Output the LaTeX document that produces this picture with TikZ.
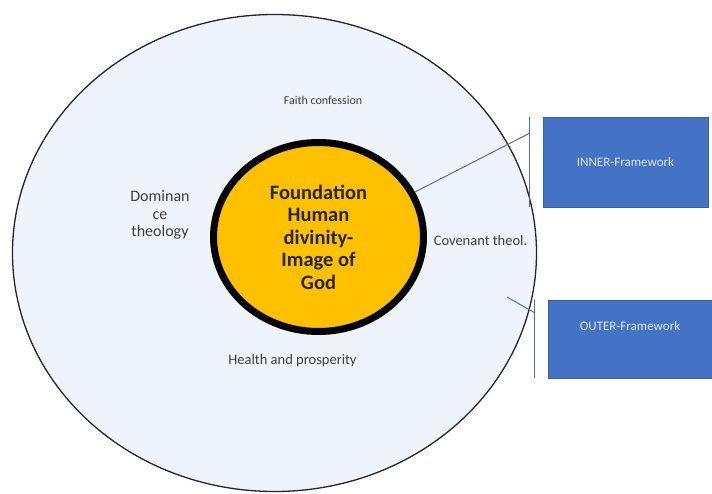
\documentclass[tikz,border=0pt]{standalone}
\usepackage{fontspec}
\setmainfont{Carlito}
\usetikzlibrary{shapes.geometric}
\definecolor{ring-fill}{RGB}{239,243,251}
\definecolor{core-gold}{RGB}{255,192,0}
\definecolor{frame-blue}{RGB}{68,114,196}
\definecolor{frame-edge}{RGB}{55,95,170}
\definecolor{frame-text}{RGB}{222,230,244}
\definecolor{callout-line}{RGB}{88,108,150}
\definecolor{label-grey}{RGB}{62,62,62}

\begin{document}
\begin{tikzpicture}[
    x=1pt, y=-1pt,
    every node/.style={text=label-grey},
    ring/.style={ellipse, draw=black!85, line width=1.3pt, fill=ring-fill,
                 minimum width=524pt, minimum height=477pt},
    core/.style={ellipse, draw=black, line width=7pt, fill=core-gold,
                 minimum width=210pt, minimum height=189pt, align=center,
                 text=black!85, font=\fontsize{20.5}{22.5}\selectfont\bfseries},
    belief/.style={align=center, font=\fontsize{14.5}{17.5}\selectfont},
    fwbox/.style={rectangle, draw=frame-edge, line width=0.6pt, fill=frame-blue,
                  minimum width=165pt, text=frame-text,
                  font=\fontsize{13}{15}\selectfont},
    callout/.style={draw=callout-line, line width=1pt},
  ]
    \useasboundingbox[fill=white] (0,0) rectangle (712,494);

    % the two rings
    \node[ring] (outer) at (274.5,253) {};
    \node[core] (core) at (318.5,237) {Foundation\\Human\\divinity-\\Image of\\God};

    % teachings placed round the core
    \node[belief, font=\fontsize{12}{14}\selectfont] (faith) at (323,100) {Faith confession};
    \node[belief, font=\fontsize{16}{17.5}\selectfont] (dominion) at (160,215) {Dominan\\ce\\theology};
    \node[belief] (covenant) at (480.5,241) {Covenant theol.};
    \node[belief] (health) at (292.5,361) {Health and prosperity};

    % framework boxes
    \node[fwbox, minimum height=90pt] (innerfw) at (625.5,162) {INNER-Framework};
    \node[fwbox, minimum height=78pt, minimum width=164pt, text depth=26pt]
      (outerfw) at (630,339) {OUTER-Framework};

    % callout lines
    \coordinate (innertip) at (530,133);
    \coordinate (outertail) at (507,297);
    \coordinate (outertip) at (535,313);
    \draw[callout] ([xshift=-13pt]innerfw.north west) -- ([xshift=-13pt]innerfw.south west);
    \draw[callout] (core.25) -- (innertip);
    \draw[callout] ([xshift=-13pt]outerfw.north west) -- ([xshift=-13pt]outerfw.south west);
    \draw[callout] (outertail) -- (outertip);
  \end{tikzpicture}
\end{document}
